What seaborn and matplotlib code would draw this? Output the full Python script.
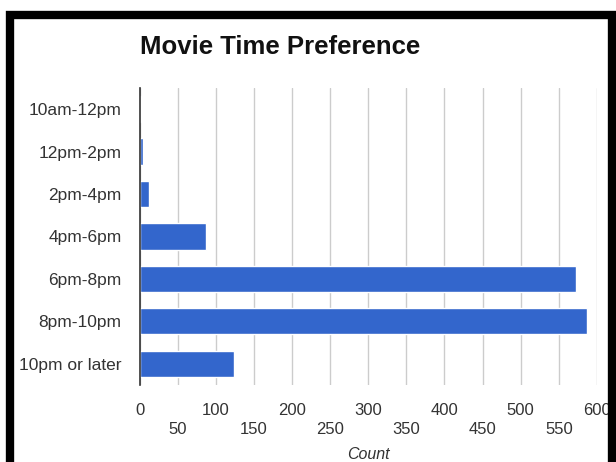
import matplotlib
matplotlib.use("Agg")
import matplotlib.pyplot as plt
import seaborn as sns
import pandas as pd
from matplotlib.patches import Rectangle

# Data
time_slots = ["10am-12pm", "12pm-2pm", "2pm-4pm", "4pm-6pm", "6pm-8pm", "8pm-10pm", "10pm or later"]
counts = [2, 4, 13, 87, 572, 587, 124]
major_ticks = [0, 100, 200, 300, 400, 500, 600]
minor_ticks = [50, 150, 250, 350, 450, 550]

df = pd.DataFrame({"Time": time_slots, "Count": counts})

sns.set_style("white")
plt.rcParams["font.family"] = ["Liberation Sans", "DejaVu Sans"]

fig = plt.figure(figsize=(6.16, 4.62), dpi=100)
ax = fig.add_axes([0.2265, 0.1667, 0.7425, 0.6428])

sns.barplot(data=df, x="Count", y="Time", color="#3366cc", saturation=1,
            width=0.62, ax=ax, zorder=3)

ax.set_xlim(0, 600)
ax.set_xticks(major_ticks)
ax.set_xticks(minor_ticks, minor=True)
ax.set_xticklabels([str(t) for t in major_ticks])
ax.set_xticklabels([str(t) for t in minor_ticks], minor=True)
lab_col = "#333333"
ax.tick_params(axis="x", which="major", length=0, pad=13, labelsize=12, labelcolor=lab_col)
ax.tick_params(axis="x", which="minor", length=0, pad=27, labelsize=12, labelcolor=lab_col)
ax.tick_params(axis="y", length=0, pad=13, labelsize=12.5, labelcolor=lab_col)

ax.grid(axis="x", which="both", color="#cccccc", linewidth=1, zorder=0)
ax.set_axisbelow(True)
for s in ["top", "right", "bottom"]:
    ax.spines[s].set_visible(False)
ax.spines["left"].set_color("#333333")
ax.spines["left"].set_linewidth(1.2)
ax.spines["left"].set_zorder(4)

ax.set_ylabel("")
ax.set_xlabel("Count", fontstyle="italic", fontsize=11.5, color=lab_col, labelpad=7)

fig.text(0.2265, 0.898, "Movie Time Preference", fontsize=18.5, fontweight="bold",
         color="#111111", ha="left", va="center")

# black frame around the chart
frame = Rectangle((10 / 616, -0.1), (612 - 10) / 616, 1.1 - 15 / 462,
                  transform=fig.transFigure, fill=False, edgecolor="black",
                  linewidth=6, zorder=10)
fig.patches.append(frame)

fig.savefig("out.png", dpi=100)
